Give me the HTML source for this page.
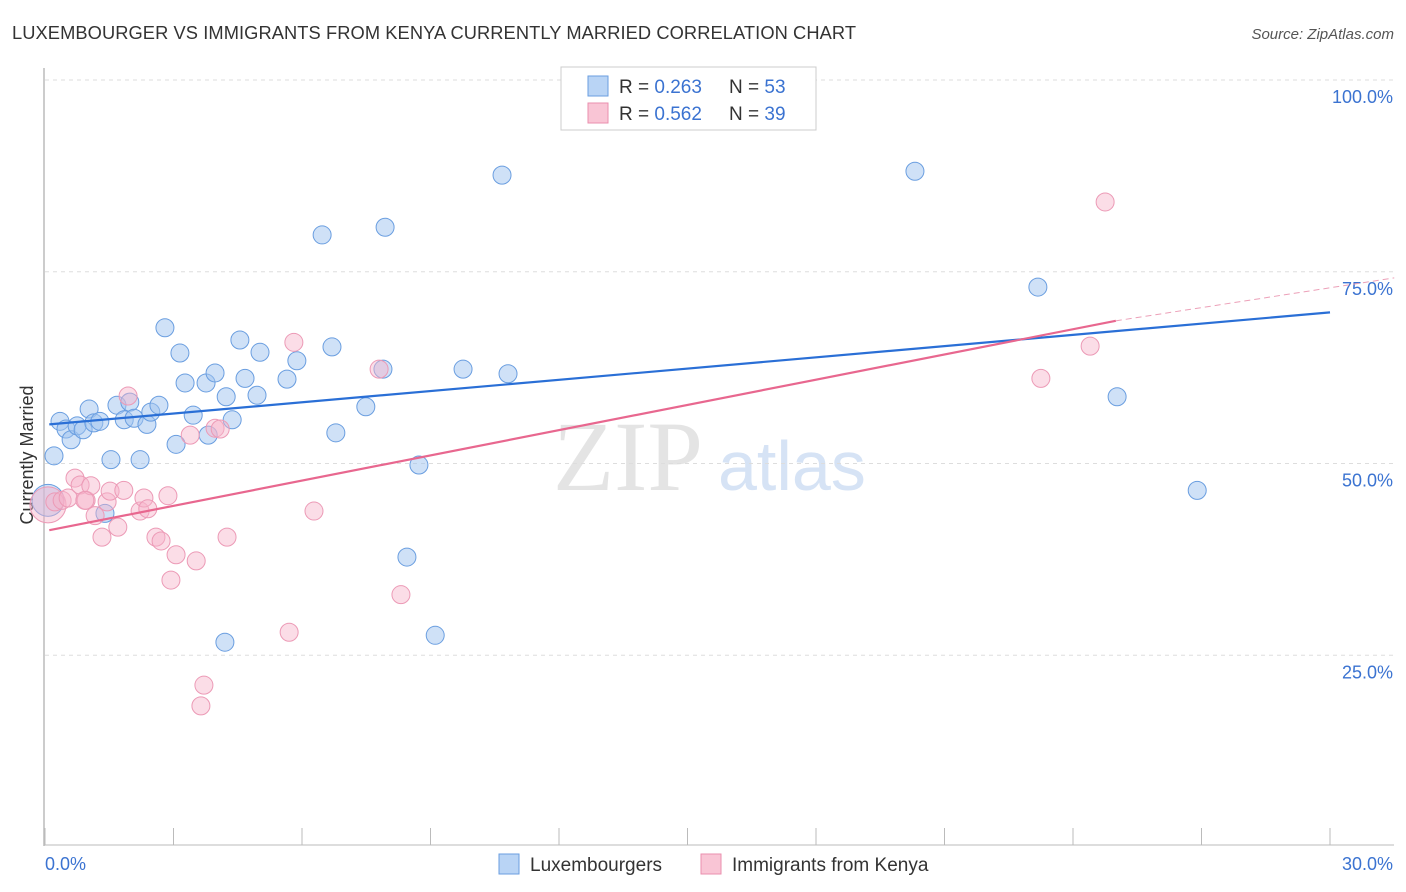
<!DOCTYPE html>
<html><head><meta charset="utf-8"><style>
body{margin:0;background:#fff;font-family:"Liberation Sans",sans-serif}
svg{display:block}
</style></head><body>
<svg id="c" width="1406" height="892">
<text x="12" y="39" font-size="18.3" fill="#333" textLength="844">LUXEMBOURGER VS IMMIGRANTS FROM KENYA CURRENTLY MARRIED CORRELATION CHART</text>
<text x="1394" y="39" font-size="15" fill="#555" font-style="italic" text-anchor="end">Source: ZipAtlas.com</text>
<text x="553" y="490" font-size="100" fill="#e4e4e4" font-family="Liberation Serif,serif">ZIP</text>
<text x="718" y="490" font-size="70" fill="#d6e3f5">atlas</text>
<text transform="translate(33,455) rotate(-90)" font-size="18" fill="#333" text-anchor="middle">Currently Married</text>
<g id="grid"></g><g id="pts"></g><g id="lines"></g>
<g>
<rect x="561" y="67" width="255" height="63" fill="#fff" stroke="#ccc"/>
<rect x="588" y="76" width="20" height="20" fill="#b9d4f5" stroke="#6a9ee0"/>
<rect x="588" y="103" width="20" height="20" fill="#f9c5d5" stroke="#ea8fae"/>
<text x="619" y="93" font-size="19" fill="#333">R = <tspan fill="#3b73d1">0.263</tspan></text>
<text x="729" y="93" font-size="19" fill="#333">N = <tspan fill="#3b73d1">53</tspan></text>
<text x="619" y="120" font-size="19" fill="#333">R = <tspan fill="#3b73d1">0.562</tspan></text>
<text x="729" y="120" font-size="19" fill="#333">N = <tspan fill="#3b73d1">39</tspan></text>
</g>
<g>
<rect x="499" y="854" width="20" height="20" fill="#b9d4f5" stroke="#6a9ee0"/>
<text x="530" y="871" font-size="19" fill="#333">Luxembourgers</text>
<rect x="701" y="854" width="20" height="20" fill="#f9c5d5" stroke="#ea8fae"/>
<text x="732" y="871" font-size="19" fill="#333">Immigrants from Kenya</text>
</g>
</svg>
<script>
const xTicks=[0,30];
const yTicks=[25,50,75,100];
const blueX=[0.35,0.49,0.61,0.75,0.89,1.03,1.14,1.28,1.54,1.68,1.85,1.98,2.08,2.22,2.38,2.47,2.66,2.80,3.06,3.15,3.27,3.46,3.76,3.81,3.97,4.23,4.37,4.55,4.67,4.95,5.02,5.65,5.88,6.47,6.70,6.79,7.49,7.89,7.94,8.45,8.73,9.11,9.76,10.67,10.81,4.20,1.40,0.21,20.31,23.18,25.03,26.90,0.07];
const blueY=[55.5,54.5,53.1,54.9,54.4,57.1,55.3,55.5,50.5,57.6,55.7,58.0,55.9,50.5,55.1,56.7,57.6,67.7,52.5,64.4,60.5,56.3,60.5,53.7,61.8,58.7,55.7,66.1,61.1,58.9,64.5,61.0,63.4,79.8,65.2,54.0,57.4,62.3,80.8,37.8,49.8,27.6,62.3,87.6,61.7,26.7,43.5,51.0,88.1,73.0,58.7,46.5,45.2];
const pinkX=[0.07,0.23,0.40,0.54,0.70,0.82,0.96,1.07,1.17,1.33,1.45,1.52,1.70,1.84,1.94,2.22,2.31,2.40,2.59,2.71,2.87,2.94,3.06,3.39,3.53,3.71,3.64,3.97,4.09,4.25,5.81,5.70,6.28,7.80,8.31,23.25,24.40,24.75,0.93];
const pinkY=[44.6,45.0,45.2,45.5,48.1,47.2,45.2,47.1,43.2,40.4,45.0,46.4,41.7,46.5,58.8,43.8,45.5,44.1,40.4,39.9,45.8,34.8,38.1,53.7,37.3,21.1,18.4,54.6,54.5,40.4,65.8,28.0,43.8,62.3,32.9,61.1,65.3,84.1,45.2];
const blueTrend=[[0.1,55.1],[30,69.7]];
const pinkTrend=[[0.1,41.3],[25,68.6]];
const pinkDash=[[25,68.6],[31.5,74.2]];
const X=v=>45+v/30*1285, Y=v=>847-v/100*767;
const NS='http://www.w3.org/2000/svg';
function mk(t,a,p){const e=document.createElementNS(NS,t);for(const k in a)e.setAttribute(k,a[k]);p.appendChild(e);return e;}
const g=document.getElementById('grid');
let ax=mk('line',{x1:44,y1:68,x2:44,y2:846,stroke:'#bbb','stroke-width':1.5},g);


let bx=mk('line',{x1:44,y1:845,x2:1394,y2:845,stroke:'#bbb','stroke-width':1},g);


yTicks.forEach(v=>{
 const l=mk('line',{x1:45,x2:1394,y1:Y(v),y2:Y(v),stroke:'#ddd','stroke-dasharray':'4,4'},g);
 
 
 const t=mk('text',{x:1393,y:Y(v)+23,'font-size':18,fill:'#3b73d1','text-anchor':'end'},g);
 t.textContent=v.toFixed(1)+'%';
 
 
});
for(let i=0;i<=10;i++){
 const x=45+i*128.5;
 const l=mk('line',{x1:x,x2:x,y1:828,y2:845,stroke:'#bbb'},g);
 
 
}
xTicks.forEach((v,i)=>{
 const t=mk('text',{x:i?1393:45,y:870,'font-size':18,fill:'#3b73d1','text-anchor':i?'end':'start'},g);
 t.textContent=v.toFixed(1)+'%';
 
 
});
const p=document.getElementById('pts');
blueX.forEach((x,i)=>{
 const c=mk('circle',{cx:X(x),cy:Y(blueY[i]),r:i==blueX.length-1?16:9,fill:'rgba(160,196,240,0.5)',stroke:'#6a9ee0','stroke-width':1},p);
 
 
});
pinkX.forEach((x,i)=>{
 const c=mk('circle',{cx:X(x),cy:Y(pinkY[i]),r:i==0?18:9,fill:'rgba(246,180,202,0.45)',stroke:'#ec9ab6','stroke-width':1},p);
 
 
});
const L=document.getElementById('lines');
let b=mk('line',{x1:X(blueTrend[0][0]),y1:Y(blueTrend[0][1]),x2:X(blueTrend[1][0]),y2:Y(blueTrend[1][1]),stroke:'#2a6fd6','stroke-width':2.2},L);


let k=mk('line',{x1:X(pinkTrend[0][0]),y1:Y(pinkTrend[0][1]),x2:X(pinkTrend[1][0]),y2:Y(pinkTrend[1][1]),stroke:'#e8678f','stroke-width':2.2},L);


let d=mk('line',{x1:X(pinkDash[0][0]),y1:Y(pinkDash[0][1]),x2:X(pinkDash[1][0]),y2:Y(pinkDash[1][1]),stroke:'#eca0b8','stroke-width':1,'stroke-dasharray':'6,4'},L);


</script>
</body></html>
